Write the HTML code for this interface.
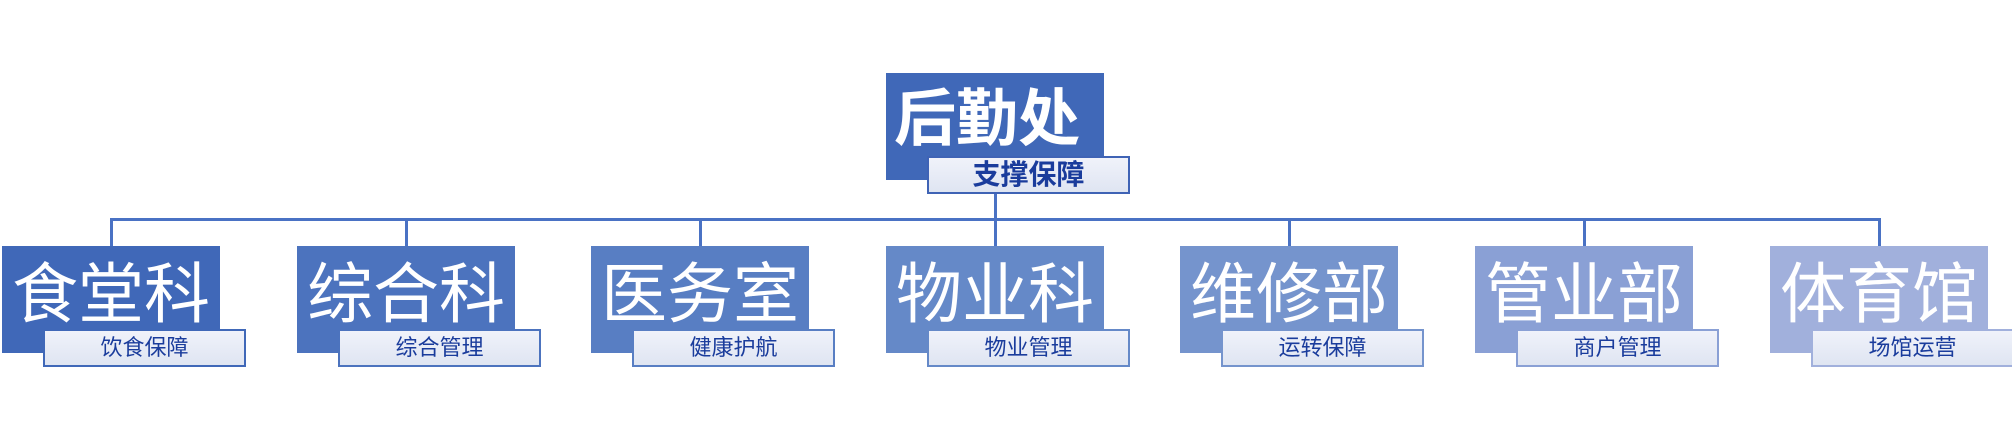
<!DOCTYPE html>
<html><head><meta charset="utf-8"><style>
body{margin:0;width:2012px;height:438px;background:#fff;position:relative;overflow:hidden;font-family:"Liberation Sans","Noto Sans CJK SC",sans-serif}
.b{position:absolute;width:218px;height:107px;color:#fff;font-size:66px;line-height:96px;text-align:center;letter-spacing:0px;white-space:nowrap;overflow:hidden}
.l{position:absolute;width:199px;height:34px;border:2px solid;background:linear-gradient(#f0f2fa,#dfe5f2);color:#1a3c9c;font-size:22px;line-height:34px;text-align:center}
.ln{position:absolute;background:#4a72c4}
</style></head><body>
<div class="ln" style="left:110px;top:218px;width:1771px;height:3px"></div>
<div class="ln" style="left:994px;top:190px;width:3px;height:57px"></div>
<div class="b" style="left:886px;top:73px;background:#4068b8;font-weight:bold;font-size:62px;line-height:94px;text-align:left;padding-left:8px;width:210px">后勤处</div>
<div class="l" style="left:927px;top:156px;border-color:#3f63b5;font-weight:bold;font-size:28px">支撑保障</div>

<div class="ln" style="left:110px;top:218px;width:3px;height:29px"></div>
<div class="b" style="left:2px;top:246px;background:#4068b8">食堂科</div>
<div class="l" style="left:43px;top:329px;border-color:#4068b8">饮食保障</div>

<div class="ln" style="left:405px;top:218px;width:3px;height:29px"></div>
<div class="b" style="left:297px;top:246px;background:#4c73be">综合科</div>
<div class="l" style="left:338px;top:329px;border-color:#4c73be">综合管理</div>

<div class="ln" style="left:699px;top:218px;width:3px;height:29px"></div>
<div class="b" style="left:591px;top:246px;background:#587ec3">医务室</div>
<div class="l" style="left:632px;top:329px;border-color:#587ec3">健康护航</div>

<div class="b" style="left:886px;top:246px;background:#6589c8">物业科</div>
<div class="l" style="left:927px;top:329px;border-color:#6589c8">物业管理</div>

<div class="ln" style="left:1288px;top:218px;width:3px;height:29px"></div>
<div class="b" style="left:1180px;top:246px;background:#7594cd">维修部</div>
<div class="l" style="left:1221px;top:329px;border-color:#7594cd">运转保障</div>

<div class="ln" style="left:1583px;top:218px;width:3px;height:29px"></div>
<div class="b" style="left:1475px;top:246px;background:#8aa0d5">管业部</div>
<div class="l" style="left:1516px;top:329px;border-color:#8aa0d5">商户管理</div>

<div class="ln" style="left:1878px;top:218px;width:3px;height:29px"></div>
<div class="b" style="left:1770px;top:246px;background:#a1b0dc">体育馆</div>
<div class="l" style="left:1811px;top:329px;border-color:#a1b0dc">场馆运营</div>
</body></html>
